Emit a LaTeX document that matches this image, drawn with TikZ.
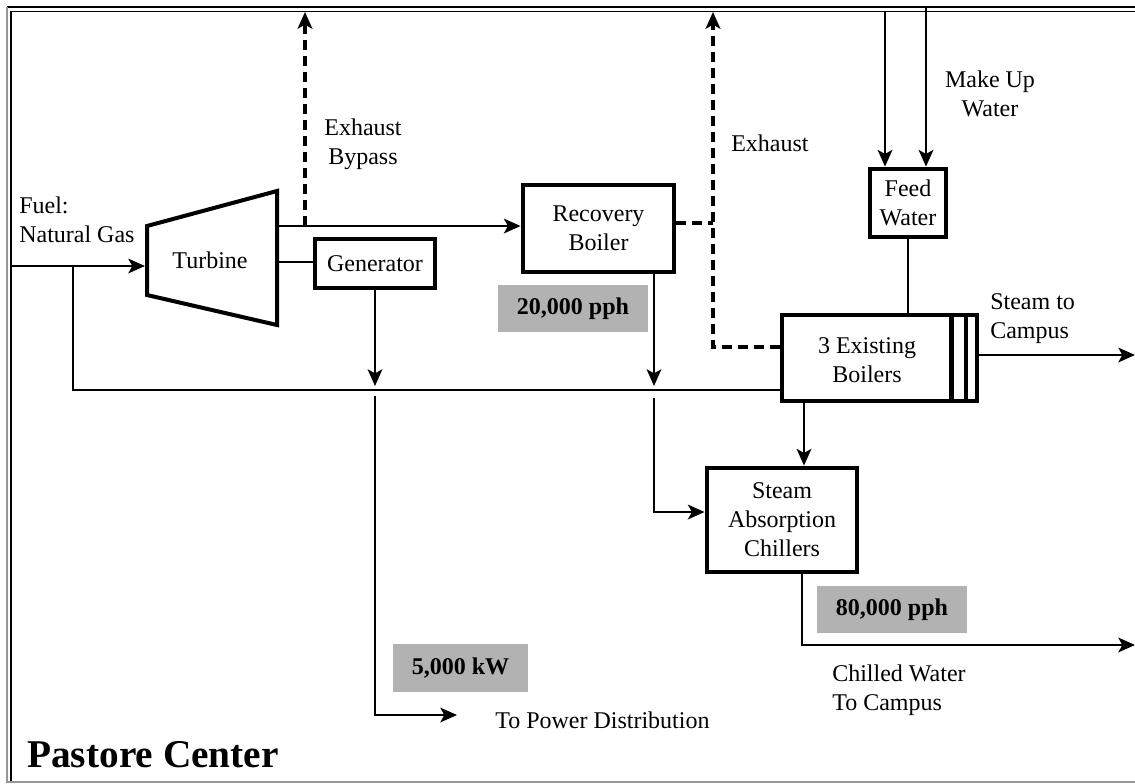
\documentclass[tikz,border=0pt]{standalone}
\usepackage{fontspec}
\setmainfont{Liberation Serif}
\usetikzlibrary{arrows.meta}
\definecolor{valgrey}{RGB}{178,178,178}
\definecolor{framegrey}{RGB}{150,150,150}
\begin{document}
\begin{tikzpicture}[x=0.75pt,y=-0.75pt,
  font=\fontsize{18}{21.75}\selectfont,
  conn/.style={line width=1.7pt},
  arr/.style={conn,-{Stealth[length=12.5pt,width=11pt,inset=3pt]}},
  dsh/.style={line width=2.5pt,dash pattern=on 7.5pt off 4.5pt},
  dsharr/.style={dsh,-{Stealth[length=12.5pt,width=11pt,inset=3pt]}},
  box/.style={draw,line width=3.6pt,inner sep=0pt,outer sep=1.8pt,align=center},
  valbox/.style={fill=valgrey,inner sep=0pt,outer sep=0pt,font=\fontsize{18}{21.75}\selectfont\bfseries},
  lbl/.style={inner sep=0pt,align=center},
  lbll/.style={inner sep=0pt,align=left},
]
\useasboundingbox (0,0) rectangle (1135,783);
% frame
\draw[line width=2pt] (7,7) -- (1135,7);
\draw[line width=1pt] (11,11.5) -- (1135,11.5);
\draw[framegrey,line width=0.9pt] (7,7) -- (7,783);
\draw[line width=1.6pt] (11,11) -- (11,783);
\draw[framegrey,line width=0.9pt] (7,782) -- (1135,782);

% turbine
\draw[line width=3pt,line join=miter] (147,226) -- (277,191) -- (277,325) -- (147,295) -- cycle;
\node[lbl] (turbtxt) at (210,260) {Turbine};
\coordinate (tL) at (145,266);
\coordinate (tEx) at (277,226);
\coordinate (tGen) at (277,262);

% boxes
\node[box,minimum width=90pt,minimum height=36.75pt] (gen) at (375,263.5) {Generator};
\node[box,minimum width=113.25pt,minimum height=65.25pt] (rb) at (598.5,228.5) {Recovery\\Boiler};
\node[box,minimum width=57pt,minimum height=51pt] (fw) at (908,203) {Feed\\Water};
\node[box,minimum width=146.25pt,minimum height=64.5pt] (boil) at (879.5,358) {};
\node[lbl] (boiltxt) at (867,360) {3 Existing\\Boilers};
\draw[line width=3.6pt] (951.5,315) -- (951.5,401);
\draw[line width=3.6pt] (966,315) -- (966,401);
\node[box,minimum width=112.5pt,minimum height=78pt] (chill) at (782,520) {Steam\\Absorption\\Chillers};

% value boxes
\node[valbox,minimum width=112.5pt,minimum height=35.25pt] (v20) at (573,308.5) {20,000 pph};
\node[valbox,minimum width=112.5pt,minimum height=35.25pt] (v80) at (892,609.5) {80,000 pph};
\node[valbox,minimum width=101.25pt,minimum height=36pt] (v5) at (460.5,668) {5,000 kW};

% labels
\node[lbll,anchor=west] (fuel) at (19,220) {Fuel:\\Natural Gas};
\node[lbl] (byp) at (363,144) {Exhaust\\Bypass};
\node[lbll,anchor=west] (exh) at (731,143) {Exhaust};
\node[lbl] (mkup) at (990,94) {Make Up\\Water};
\node[lbll,anchor=west] (stc) at (990,319) {Steam to\\Campus};
\node[lbll,anchor=west] (tpd) at (495,720) {To Power Distribution};
\node[lbll,anchor=west] (cw) at (832,690) {Chilled Water\\To Campus};
\node[anchor=base west,inner sep=0pt,font=\fontsize{29.5}{30}\selectfont\bfseries] (title) at (27,767) {Pastore Center};

% coordinates
\coordinate (fuelsrc) at (11,266);
\coordinate (fuelbr) at (73,266);
\coordinate (bus) at (73,390);
\coordinate (bypJ) at (305,226);
\coordinate (bypTop) at (305,12);
\coordinate (genBus) at (375,386);
\coordinate (pwrTop) at (375,396);
\coordinate (pwrEnd) at (457,715);
\coordinate (rbOut) at (654,0);
\coordinate (rbBus) at (654,386);
\coordinate (chIn) at (654,398);
\coordinate (chInY) at (0,512);
\coordinate (rbEx) at (0,223);
\coordinate (exhV) at (713,347);
\coordinate (exhTop) at (713,12);
\coordinate (mu1) at (885,11.5);
\coordinate (mu2) at (926,8);
\coordinate (stOut) at (1135,355);
\coordinate (bcX) at (804,0);
\coordinate (cwX) at (802,0);
\coordinate (cwOut) at (1135,645);

% connectors
\draw[arr] (fuelsrc) -- (tL);
\draw[conn] (fuelbr) -- (bus) -- (boil.west |- bus);
\draw[arr] (tEx) -- (rb.west |- tEx);
\draw[dsharr] (bypJ) -- (bypTop);
\draw[conn] (tGen) -- (gen.west |- tGen);
\draw[arr] (gen.south) -- (genBus);
\draw[arr] (pwrTop) |- (pwrEnd);
\draw[arr] (rb.south -| rbOut) -- (rbBus);
\draw[arr] (chIn) |- (chill.west |- chInY);
\draw[dsh] (rb.east |- rbEx) -- (exhV |- rbEx);
\draw[dsharr] (boil.west |- exhV) -- (exhV) -- (exhTop);
\draw[arr] (mu1) -- (fw.north -| mu1);
\draw[arr] (mu2) -- (fw.north -| mu2);
\draw[conn] (fw.south) -- (fw.south |- boil.north);
\draw[arr] (boil.east |- stOut) -- (stOut);
\draw[arr] (boil.south -| bcX) -- (chill.north -| bcX);
\draw[arr] (chill.south -| cwX) |- (cwOut);
\end{tikzpicture}
\end{document}
